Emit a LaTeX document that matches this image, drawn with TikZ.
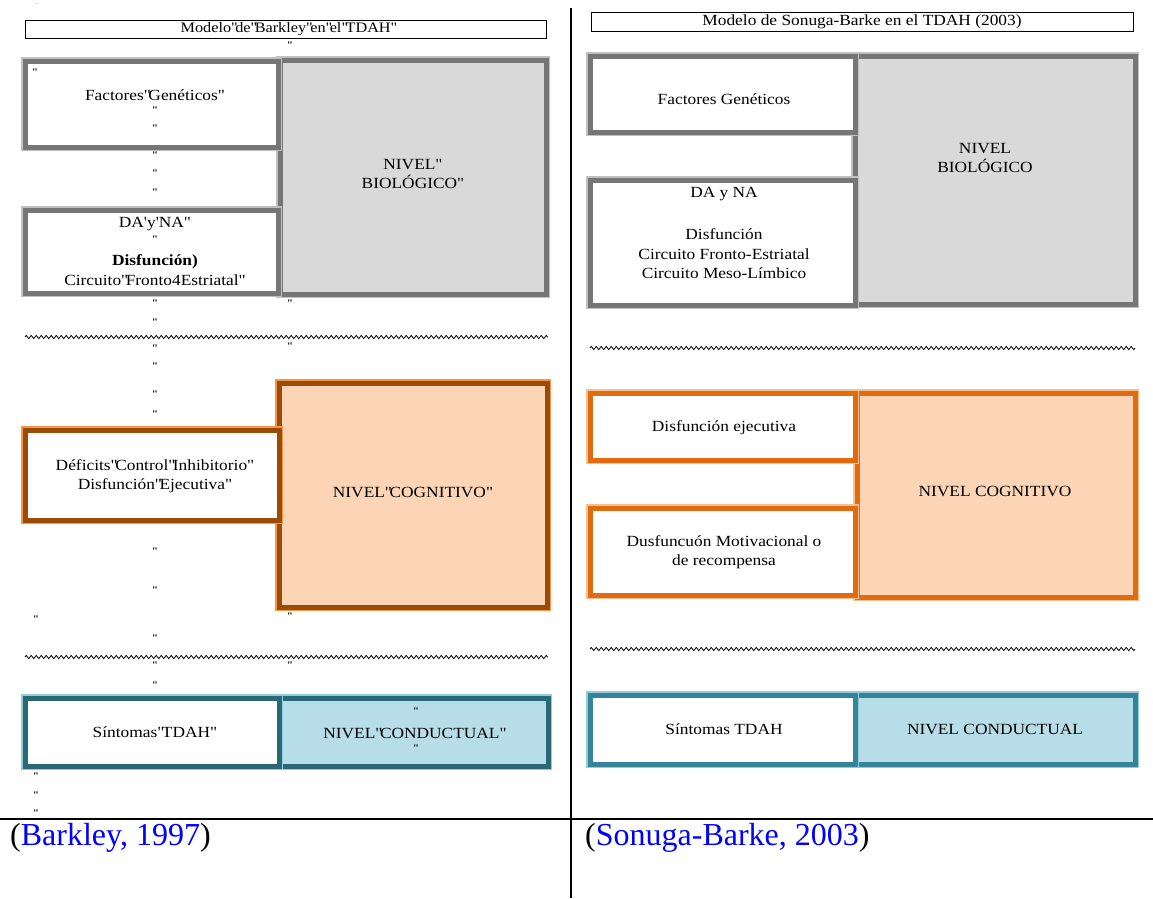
\documentclass[tikz,border=0pt]{standalone}
\usepackage{fontspec}
\setmainfont{Liberation Serif}[FakeStretch=1.12, Ligatures=TeXOff]
\newfontfamily\citefont{Liberation Serif}
\usetikzlibrary{decorations.pathmorphing}
\newcommand\qk{"\kern-2.5pt}
\definecolor{gmid}{HTML}{767676}
\definecolor{glight}{HTML}{C0C0C0}
\definecolor{gfill}{HTML}{D9D9D9}
\definecolor{odark}{HTML}{9C4A08}
\definecolor{olight}{HTML}{F79646}
\definecolor{omid}{HTML}{E06C12}
\definecolor{olight2}{HTML}{F9BF8F}
\definecolor{ofill}{HTML}{FBD5B5}
\definecolor{tdark}{HTML}{2A6877}
\definecolor{tmid}{HTML}{35849A}
\definecolor{tlight}{HTML}{92CDDC}
\definecolor{tfill}{HTML}{B7DDE8}
\definecolor{citeblue}{HTML}{0000FF}
\begin{document}
\begin{tikzpicture}[x=1pt,y=-1pt,
  bx/.style={rectangle, inner sep=0pt, outer sep=0pt},
  graybox/.style={bx, draw=gmid, line width=5pt, preaction={draw=glight, line width=7.5pt}},
  orabox/.style={bx, draw=odark, line width=5pt, preaction={draw=olight, line width=7.5pt}},
  orbbox/.style={bx, draw=omid, line width=5pt, preaction={draw=olight2, line width=7.5pt}},
  teabox/.style={bx, draw=tdark, line width=5pt, preaction={draw=tlight, line width=7.5pt}},
  tebbox/.style={bx, draw=tmid, line width=5pt, preaction={draw=tlight, line width=7.5pt}},
  titlebox/.style={bx, draw=black, line width=1pt},
  txt/.style={font=\fontsize{15.5}{19.5}\selectfont, align=center, inner sep=0pt},
  q/.style={font=\bfseries\fontsize{10}{10}\selectfont, inner sep=0pt},
  wave/.style={decorate, decoration={zigzag, segment length=5pt, amplitude=1.6pt}, line width=0.8pt},
  rule/.style={line width=2pt}
]
\useasboundingbox (0,0) rectangle (1153,898);

% ---- dividing rules
\coordinate (vtop) at (571,8);
\coordinate (vbot) at (571,898);
\coordinate (hl) at (0,819);
\coordinate (hr) at (1153,819);
\draw[rule] (vtop) -- (vbot);
\draw[rule] (hl) -- (hr);

% ================= LEFT (Barkley) =================
\node[q, text=gray, font=\fontsize{6}{6}\selectfont] (dots) at (37,4) {..};
\node[titlebox, minimum width=521pt, minimum height=18pt] (ltitle) at (285.5,29) {};
\node[txt, font=\fontsize{14.5}{18}\selectfont] (ltitlet) at (289,29) {Modelo\qk de\qk Barkley\qk en\qk el\qk TDAH"};

\node[graybox, fill=gfill, minimum width=266pt, minimum height=234pt] (lbio) at (413,177) {};
\node[graybox, fill=white, minimum width=253pt, minimum height=86pt] (lgen) at (151.5,104) {};
\node[graybox, fill=white, minimum width=253pt, minimum height=83pt] (lda) at (151.5,251.5) {};
\node[txt] (lbiot) at (413,174) {NIVEL"\\BIOLÓGICO"};
\node[txt] (lgent) at (155,95) {Factores\qk Genéticos"};
\node[txt] (ldat1) at (155,224) {DA'y'NA"};
\node[txt] (ldat2) at (155,262) {\bfseries Disfunción)};
\node[txt] (ldat3) at (155,280) {Circuito\qk Fronto4Estriatal"};

\node[orabox, fill=ofill, minimum width=268pt, minimum height=224pt] (lcog) at (413,495) {};
\node[orabox, fill=white, minimum width=254pt, minimum height=90pt] (ldef) at (152,475) {};
\node[txt] (lcogt) at (413,492) {NIVEL\qk COGNITIVO"};
\node[txt] (ldeft) at (155,476) {Déficits\qk Control\qk Inhibitorio"\\Disfunción\qk Ejecutiva"};

\node[teabox, fill=tfill, minimum width=269pt, minimum height=68pt] (lcon) at (413.5,732) {};
\node[teabox, fill=white, minimum width=254pt, minimum height=68pt] (lsin) at (152,732) {};
\node[txt] (lsint) at (155,732) {Síntomas\qk TDAH"};
\node[txt] (lcont) at (415,733) {NIVEL\qk CONDUCTUAL"};

\coordinate (lw1a) at (25,337);
\coordinate (lw1b) at (548,337);
\coordinate (lw2a) at (25,657);
\coordinate (lw2b) at (548,657);
\draw[wave] (lw1a) -- (lw1b);
\draw[wave] (lw2a) -- (lw2b);

% stray quote marks
\foreach \x/\y [count=\i] in {290/45, 35/72, 155/110, 155/128, 155/155, 155/173, 155/192, 155/239,
  155/303, 290/303, 155/322, 155/348, 290/346, 155/366, 155/394, 155/414,
  155/551, 155/590, 36/619, 290/616, 155/638, 155/665, 290/665, 155/685,
  416/711, 416/748, 36/776, 36/795, 36/813}
  \node[q] (qm\i) at (\x,\y) {"};

\node[anchor=west, inner sep=0pt] (lcite) at (10,838) {\citefont\fontsize{32}{34}\selectfont (\textcolor{citeblue}{Barkley, 1997})};

% ================= RIGHT (Sonuga-Barke) =================
\node[titlebox, minimum width=542pt, minimum height=19pt] (rtitle) at (862,21.5) {};
\node[txt] (rtitlet) at (862,21.5) {Modelo de Sonuga-Barke en el TDAH (2003)};

\node[graybox, fill=gfill, minimum width=280pt, minimum height=248pt] (rbio) at (995,180) {};
\node[graybox, fill=white, minimum width=265pt, minimum height=76pt] (rgen) at (722.5,94) {};
\node[graybox, fill=white, minimum width=265pt, minimum height=125pt] (rda) at (722.5,242.5) {};
\node[txt] (rbiot) at (985,158) {NIVEL\\BIOLÓGICO};
\node[txt] (rgent) at (724,99) {Factores Genéticos};
\node[txt] (rdat1) at (724,194) {DA y NA};
\node[txt] (rdat2) at (724,254) {Disfunción\\Circuito Fronto-Estriatal\\Circuito Meso-Límbico};

\node[orbbox, fill=ofill, minimum width=278pt, minimum height=204pt] (rcog) at (996,495) {};
\node[orbbox, fill=white, minimum width=265pt, minimum height=67pt] (rdis) at (722.5,426.5) {};
\node[orbbox, fill=white, minimum width=265pt, minimum height=87pt] (rmot) at (722.5,551.5) {};
\node[txt] (rcogt) at (995,491) {NIVEL COGNITIVO};
\node[txt] (rdist) at (724,428) {Disfunción ejecutiva};
\node[txt] (rmott) at (724,552) {Dusfuncuón Motivacional o\\de recompensa};

\node[tebbox, fill=tfill, minimum width=280pt, minimum height=69pt] (rcon) at (995,729.5) {};
\node[tebbox, fill=white, minimum width=265pt, minimum height=69pt] (rsin) at (722.5,729.5) {};
\node[txt] (rsint) at (724,729) {Síntomas TDAH};
\node[txt] (rcont) at (995,729) {NIVEL CONDUCTUAL};

\coordinate (rw1a) at (590,348);
\coordinate (rw1b) at (1135,348);
\coordinate (rw2a) at (590,649);
\coordinate (rw2b) at (1135,649);
\draw[wave] (rw1a) -- (rw1b);
\draw[wave] (rw2a) -- (rw2b);

\node[anchor=west, inner sep=0pt] (rcite) at (585,838) {\citefont\fontsize{32}{34}\selectfont (\textcolor{citeblue}{Sonuga-Barke, 2003})};
\end{tikzpicture}
\end{document}
